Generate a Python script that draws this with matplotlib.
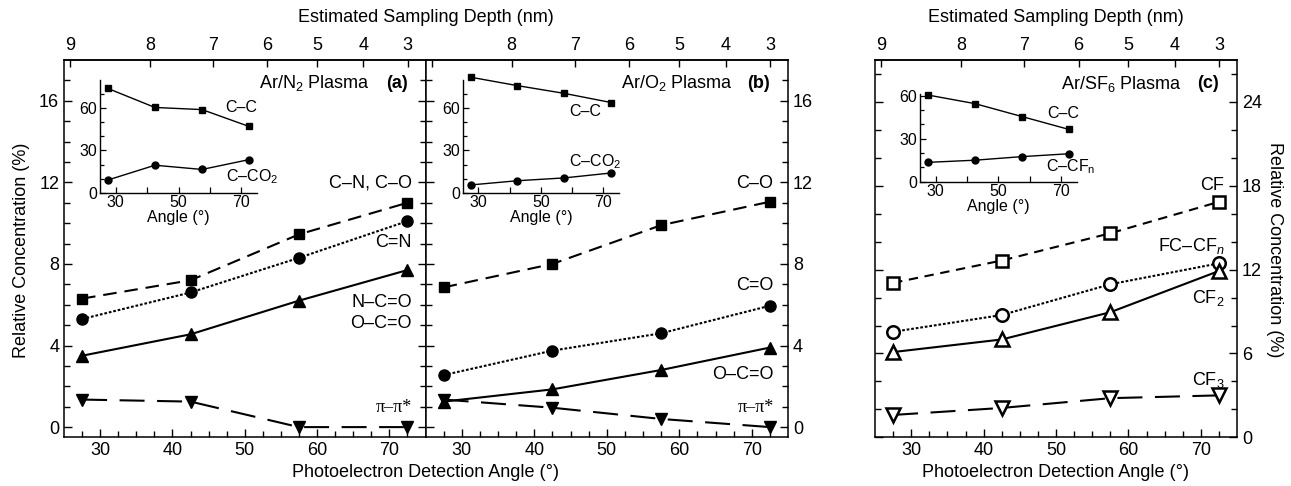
import numpy as np
import matplotlib
matplotlib.use("Agg")
import matplotlib.pyplot as plt

plt.rcParams['font.family'] = ['Liberation Sans', 'DejaVu Sans']
plt.rcParams['mathtext.fontset'] = 'custom'
plt.rcParams['mathtext.rm'] = 'Liberation Sans'
plt.rcParams['mathtext.it'] = 'Liberation Sans:italic'
plt.rcParams['mathtext.bf'] = 'Liberation Sans:bold'

# --- data ---
angles = [27.5, 42.5, 57.5, 72.5]

# (a) Ar/N2 plasma
n2_cn_co = [6.3, 7.2, 9.45, 11.0]
n2_c_n = [5.3, 6.6, 8.3, 10.1]
n2_ncoo = [3.5, 4.55, 6.2, 7.7]
n2_pi = [1.35, 1.25, 0.0, 0.0]
n2_ins_cc = [74, 60.5, 59, 47]
n2_ins_cco2 = [9, 19.5, 16.5, 23.5]

# (b) Ar/O2 plasma
o2_co = [6.85, 8.0, 9.9, 11.05]
o2_c_o = [2.55, 3.75, 4.6, 5.95]
o2_oco = [1.25, 1.85, 2.8, 3.9]
o2_pi = [1.35, 0.95, 0.4, 0.0]
o2_ins_cc = [82, 76, 70.5, 64]
o2_ins_cco2 = [5.5, 8.5, 10.5, 14]

# (c) Ar/SF6 plasma
sf6_cf = [11.05, 12.65, 14.6, 16.85]
sf6_fccfn = [7.55, 8.75, 10.95, 12.45]
sf6_cf2 = [6.1, 7.0, 8.95, 11.9]
sf6_cf3 = [1.6, 2.1, 2.8, 3.0]
sf6_ins_cc = [60.5, 54.5, 45.5, 36.5]
sf6_ins_ccfn = [13.5, 15, 17.5, 19.5]

depth_ticks = [9, 8, 7, 6, 5, 4, 3]


def ang2depth(a):
    return 10 * np.cos(np.radians(np.clip(a, 0, 89.9)))


def depth2ang(d):
    return np.degrees(np.arccos(np.clip(np.asarray(d) / 10.0, 0.0, 1.0)))


fig = plt.figure(figsize=(12.91, 4.86), dpi=100)
H = 486.0
W = 1291.0


def px_axes(l, r, t, b):
    return fig.add_axes([l / W, 1 - b / H, (r - l) / W, (b - t) / H])


ax_a = px_axes(64, 425.5, 60, 437.3)
ax_b = px_axes(425.5, 788, 60, 437.3)
ax_c = px_axes(875, 1237, 60, 437.3)

LW = 1.5
TICK_FS = 13


def style_main(ax, ymin, ymax, ymaj, ymin_step, top_labels):
    ax.set_xlim(25, 75)
    ax.set_ylim(ymin, ymax)
    ax.set_xticks([30, 40, 50, 60, 70])
    ax.set_xticks(np.arange(27.5, 75, 2.5), minor=True)
    ax.set_yticks(np.arange(0, ymax, ymaj))
    ax.set_yticks(np.arange(0, ymax, ymin_step), minor=True)
    ax.tick_params(which='both', direction='in', top=False, right=True,
                   labelsize=TICK_FS, width=1.0)
    ax.tick_params(which='major', length=6)
    ax.tick_params(which='minor', length=4)
    for s in ax.spines.values():
        s.set_linewidth(1.1)
    sec = ax.secondary_xaxis('top', functions=(ang2depth, depth2ang))
    sec.set_xticks(depth_ticks)
    sec.set_xticklabels([str(d) if d in top_labels else '' for d in depth_ticks])
    sec.tick_params(direction='in', length=5, width=1.0, labelsize=TICK_FS, pad=4)
    sec.xaxis.set_minor_locator(matplotlib.ticker.NullLocator())
    sec.spines['top'].set_linewidth(1.1)
    return sec


style_main(ax_a, -0.5, 18, 4, 1, depth_ticks)
style_main(ax_b, -0.5, 18, 4, 1, depth_ticks[1:])
style_main(ax_c, 0, 27, 6, 2, depth_ticks)
ax_b.tick_params(which='both', labelleft=False, labelright=True)
ax_c.tick_params(which='both', labelleft=False, labelright=True)

ms_sq, ms_ci, ms_tr = 6.5, 8, 8.5

# filled-marker panels
for ax, s1, s2, s3, s4 in [(ax_a, n2_cn_co, n2_c_n, n2_ncoo, n2_pi),
                           (ax_b, o2_co, o2_c_o, o2_oco, o2_pi)]:
    ax.plot(angles, s1, color='k', lw=LW, dashes=(6.5, 3.8), marker='s', ms=ms_sq)
    ax.plot(angles, s2, color='k', lw=LW, dashes=(1.3, 0.9), marker='o', ms=ms_ci)
    ax.plot(angles, s3, color='k', lw=LW, ls='-', marker='^', ms=ms_tr)
    ax.plot(angles, s4, color='k', lw=LW, dashes=(12, 6), marker='v', ms=ms_tr)

# open-marker panel
open_kw = dict(color='k', lw=LW, mfc='white', mew=1.8)
ax_c.plot(angles, sf6_cf, dashes=(4.5, 3.2), marker='s', ms=8, **open_kw)
ax_c.plot(angles, sf6_fccfn, dashes=(1.3, 0.9), marker='o', ms=9, **open_kw)
ax_c.plot(angles, sf6_cf2, ls='-', marker='^', ms=10, **open_kw)
ax_c.plot(angles, sf6_cf3, dashes=(12, 6), marker='v', ms=10, **open_kw)

# series labels
fs = 13
tk = dict(ha='right', va='center', fontsize=fs)
pi_kw = dict(ha='right', va='center', fontsize=fs, family=['Liberation Serif', 'DejaVu Serif'])

ax_a.text(67.3, 16.85, r'Ar/N$_2$ Plasma', **tk)
ax_a.text(72.6, 16.85, '(a)', fontweight='bold', **tk)
ax_a.text(73.1, 11.95, 'C–N, C–O', **tk)
ax_a.text(73.1, 9.05, 'C=N', **tk)
ax_a.text(73.1, 6.13, 'N–C=O', **tk)
ax_a.text(73.1, 5.07, 'O–C=O', **tk)
ax_a.text(73.1, 0.95, 'π–π*', **pi_kw)

ax_b.text(67.4, 16.85, r'Ar/O$_2$ Plasma', **tk)
ax_b.text(72.5, 16.85, '(b)', fontweight='bold', **tk)
ax_b.text(73.0, 11.93, 'C–O', **tk)
ax_b.text(73.0, 6.95, 'C=O', **tk)
ax_b.text(73.0, 2.58, 'O–C=O', **tk)
ax_b.text(73.0, 0.95, 'π–π*', **pi_kw)

ax_c.text(67.4, 25.3, r'Ar/SF$_6$ Plasma', **tk)
ax_c.text(72.5, 25.3, '(c)', fontweight='bold', **tk)
ax_c.text(73.2, 18.0, 'CF', **tk)
ax_c.text(73.3, 13.7, r'FC–CF$_{\mathit{n}}$', **tk)
ax_c.text(73.3, 10.0, r'CF$_2$', **tk)
ax_c.text(73.3, 4.1, r'CF$_3$', **tk)


# insets
def inset(l, r, t, b, ymax, cc, other, lab_cc, lab_other, pos_cc, pos_other):
    ax = px_axes(l, r, t, b)
    ax.plot(angles, cc, color='k', lw=1.0, marker='s', ms=4.5, clip_on=False)
    ax.plot(angles, other, color='k', lw=1.0, marker='o', ms=5, clip_on=False)
    ax.set_xlim(25, 75)
    ax.set_ylim(0, ymax)
    ax.set_xticks([30, 40, 50, 60, 70])
    ax.set_xticklabels(['30', '', '50', '', '70'])
    ax.set_yticks([0, 30, 60])
    ax.set_yticks(np.arange(0, ymax, 10), minor=True)
    ax.tick_params(which='both', direction='in', labelsize=11.5, width=0.9, pad=2)
    ax.tick_params(which='major', length=4)
    ax.tick_params(which='minor', length=3)
    ax.spines['top'].set_visible(False)
    ax.spines['right'].set_visible(False)
    for s in ('left', 'bottom'):
        ax.spines[s].set_linewidth(1.0)
    ax.patch.set_alpha(0)
    ax.set_xlabel('Angle (°)', fontsize=11.5, labelpad=0)
    ax.text(pos_cc[0], pos_cc[1], lab_cc, ha='center', va='center', fontsize=11.5)
    ax.text(pos_other[0], pos_other[1], lab_other, ha='center', va='center', fontsize=11.5)
    return ax


inset(100, 257, 80, 192.7, 80, n2_ins_cc, n2_ins_cco2, 'C–C', r'C–CO$_2$',
      (70.1, 60.3), (73.3, 11.3))
inset(462.7, 619, 80, 192.7, 80, o2_ins_cc, o2_ins_cco2, 'C–C', r'C–CO$_2$',
      (64.1, 57.7), (67.3, 21.9))
inset(920, 1076.7, 94.3, 181.7, 61, sf6_ins_cc, sf6_ins_ccfn, 'C–C', r'C–CF$_\mathrm{n}$',
      (70.8, 47.4), (73.2, 10.5))

# axis titles
fig.text(22 / W, 1 - 250 / H, 'Relative Concentration (%)', rotation=90,
         ha='center', va='center', fontsize=13)
fig.text(1274 / W, 1 - 250 / H, 'Relative Concentration (%)', rotation=-90,
         ha='center', va='center', fontsize=13)
for xc in (425.5, 1056):
    fig.text(xc / W, 1 - 472 / H, 'Photoelectron Detection Angle (°)',
             ha='center', va='center', fontsize=13)
    fig.text(xc / W, 1 - 18 / H, 'Estimated Sampling Depth (nm)',
             ha='center', va='center', fontsize=13)

fig.savefig('out.png', dpi=100)
